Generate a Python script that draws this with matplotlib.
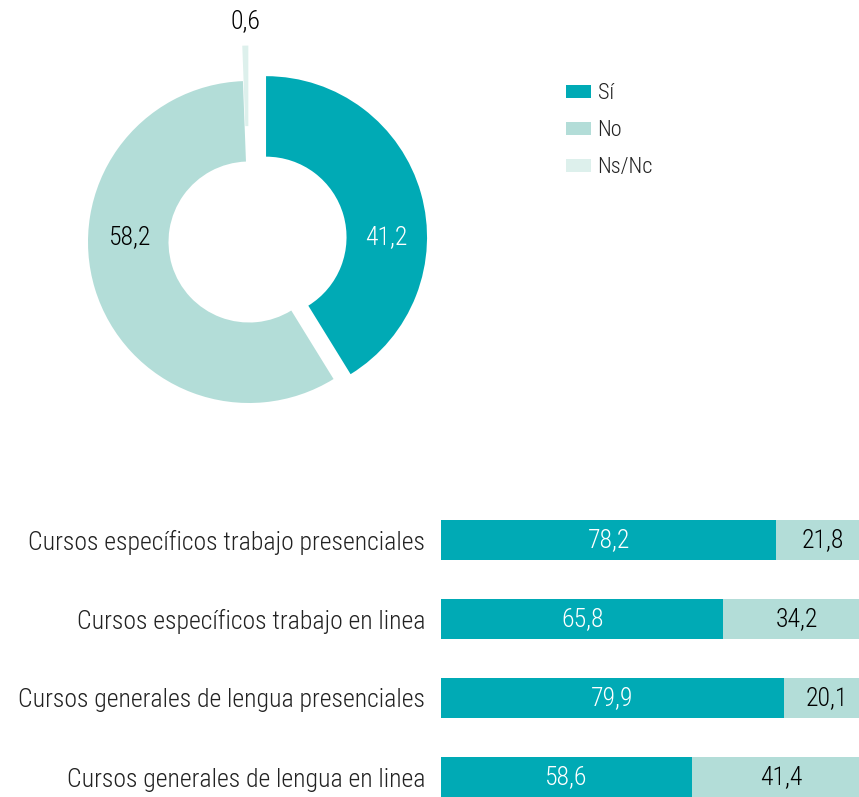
import matplotlib
matplotlib.use("Agg")
import matplotlib.pyplot as plt
from matplotlib.patches import Patch
import numpy as np

# ---- data ----
pie_labels = ["Sí", "No", "Ns/Nc"]
pie_values = [41.2, 58.2, 0.6]
pie_texts = ["41,2", "58,2", "0,6"]

bar_categories = [
    "Cursos específicos trabajo presenciales",
    "Cursos específicos trabajo en linea",
    "Cursos generales de lengua presenciales",
    "Cursos generales de lengua en linea",
]
bar_si = [78.2, 65.8, 79.9, 58.6]
bar_no = [21.8, 34.2, 20.1, 41.4]

# ---- style ----
C_SI = "#00AAB5"
C_NO = "#B3DDD8"
C_NSNC = "#DDF0EC"
FONT = ["Roboto Condensed", "Liberation Sans Narrow", "Roboto", "DejaVu Sans"]
plt.rcParams["font.family"] = FONT

W, H = 859, 797
fig = plt.figure(figsize=(W / 100, H / 100), dpi=100)

def fmt(v):
    return f"{v:.1f}".replace(".", ",")

FS = 18.5

# ---- donut ----
R_PX = 161.0
cx, cy = 249, 242
half = 230
axp = fig.add_axes([(cx - half) / W, (H - cy - half) / H, 2 * half / W, 2 * half / H])
lim = half / R_PX
explode = [0.11, 0.0, 0.22]
wedges, _ = axp.pie(pie_values, colors=[C_SI, C_NO, C_NSNC], startangle=90,
                    counterclock=False, explode=explode,
                    wedgeprops=dict(width=0.5, linewidth=0))
axp.set_xlim(-lim, lim)
axp.set_ylim(-lim, lim)
axp.set_aspect("equal")
axp.axis("off")

total = sum(pie_values)
cum = 0
for i, (v, t) in enumerate(zip(pie_values, pie_texts)):
    mid = (cum + v / 2) / total * 2 * np.pi
    cum += v
    px = explode[i] * np.sin(mid)
    py = explode[i] * np.cos(mid)
    if i == 0:
        x, y, col = px + 0.75, 0.03, "white"
    elif i == 1:
        x, y, col = -0.74, 0.03, "black"
    else:
        x, y, col = px - 0.02, py + 1.15, "black"
    axp.text(x, y, t, ha="center", va="center", fontsize=FS, color=col,
             fontweight="light")

# legend
handles = [Patch(facecolor=c, edgecolor="none") for c in [C_SI, C_NO, C_NSNC]]
fig.legend(handles, pie_labels, loc="upper left",
           bbox_to_anchor=(566 / W, 1 - 83 / H), frameon=False,
           prop=dict(size=16, weight="light"), handlelength=1.12, handleheight=0.54,
           handletextpad=0.3, labelspacing=0.72, borderpad=0, borderaxespad=0,
           labelcolor="#222222")

# ---- bars ----
x0_px, x100_px = 441, 870
row0, step = 540, 79
top_px, bot_px = 500, 797
axb = fig.add_axes([x0_px / W, (H - bot_px) / H, (x100_px - x0_px) / W, (bot_px - top_px) / H])
y = np.arange(len(bar_categories))
bh = 40 / step
axb.barh(y, bar_si, height=bh, color=C_SI, linewidth=0)
axb.barh(y, bar_no, left=bar_si, height=bh, color=C_NO, linewidth=0)
axb.set_xlim(0, 100)
axb.set_ylim((bot_px - row0) / step, (top_px - row0) / step)
for i in range(len(bar_categories)):
    axb.text(bar_si[i] / 2, y[i], fmt(bar_si[i]), ha="center", va="center",
             fontsize=FS, color="white", fontweight="light")
    axb.text(bar_si[i] + bar_no[i] / 2, y[i], fmt(bar_no[i]), ha="center",
             va="center", fontsize=FS, color="black", fontweight="light")
axb.set_yticks(y)
axb.set_yticklabels(bar_categories, fontsize=FS, color="#222222", fontweight="light")
axb.tick_params(axis="y", length=0, pad=11.5)
axb.set_xticks([])
for s in axb.spines.values():
    s.set_visible(False)

fig.savefig("out.png", dpi=100)
